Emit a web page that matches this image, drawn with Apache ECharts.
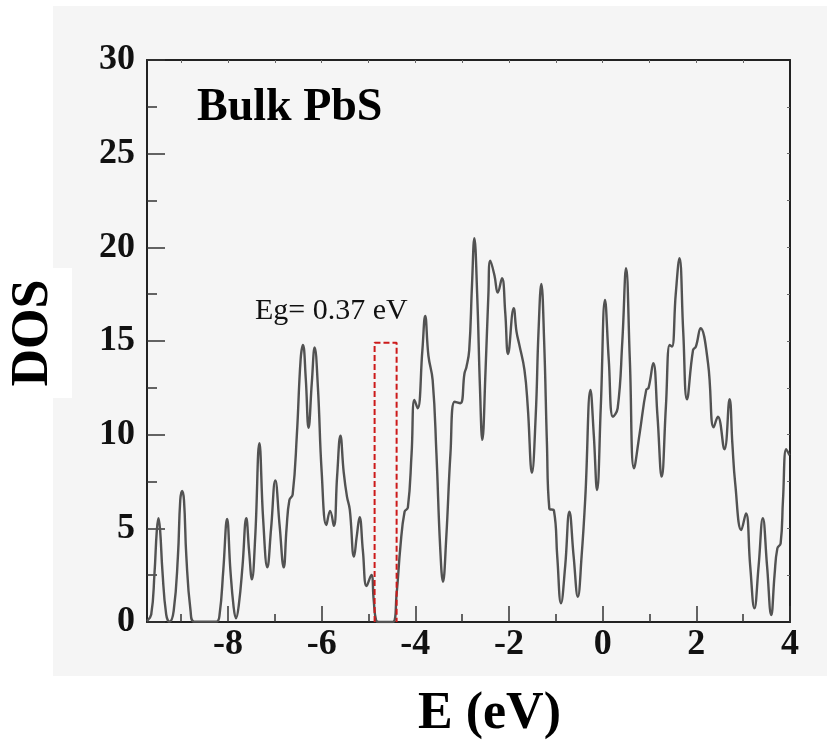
<!DOCTYPE html>
<html>
<head>
<meta charset="utf-8">
<script src="https://cdn.jsdelivr.net/npm/echarts@6/dist/echarts.min.js"></script>
<style>html,body{margin:0;padding:0;background:#fff;}#c{width:827px;height:754px;}</style>
</head>
<body>
<div id="c"></div>
<script>
// Energy (eV) and density of states
const energy = [-9.73,-9.64,-9.57,-9.52,-9.485,-9.45,-9.40,-9.32,-9.25,-9.16,-9.07,-9.02,-8.98,-8.94,-8.89,-8.80,-8.72,-8.25,-8.18,-8.10,-8.02,-7.95,-7.88,-7.83,-7.77,-7.69,-7.61,-7.55,-7.49,-7.42,-7.33,-7.25,-7.16,-7.08,-6.99,-6.90,-6.81,-6.75,-6.69,-6.62,-6.53,-6.45,-6.40,-6.34,-6.28,-6.21,-6.15,-6.08,-6.00,-5.90,-5.82,-5.74,-5.67,-5.60,-5.53,-5.46,-5.40,-5.31,-5.25,-5.19,-5.12,-5.04,-4.94,-4.89,-4.84,-4.78,-4.48,-4.40,-4.32,-4.23,-4.16,-4.08,-4.02,-3.95,-3.85,-3.79,-3.72,-3.63,-3.55,-3.47,-3.41,-3.34,-3.25,-3.16,-3.04,-2.95,-2.91,-2.85,-2.79,-2.74,-2.68,-2.62,-2.57,-2.50,-2.44,-2.40,-2.31,-2.24,-2.15,-2.08,-2.02,-1.90,-1.84,-1.78,-1.67,-1.60,-1.51,-1.43,-1.37,-1.31,-1.25,-1.19,-1.14,-1.04,-0.97,-0.89,-0.80,-0.71,-0.62,-0.53,-0.45,-0.37,-0.26,-0.19,-0.12,-0.04,0.05,0.13,0.22,0.32,0.42,0.50,0.58,0.67,0.79,0.93,0.98,1.08,1.17,1.26,1.35,1.43,1.48,1.56,1.64,1.72,1.80,1.93,1.99,2.09,2.25,2.37,2.46,2.60,2.71,2.77,2.83,2.96,3.06,3.15,3.24,3.33,3.42,3.51,3.60,3.67,3.73,3.80,3.85,3.92,3.99];
const dos = [0.05,0.4,2.6,4.9,5.54,4.9,2.7,0.4,0.02,0.6,3.5,6.5,7.0,6.5,3.5,0.6,0.02,0.02,0.4,2.8,5.5,2.8,0.8,0.2,0.9,3.0,5.54,3.8,2.28,4.5,9.54,5.5,2.92,5.0,7.55,5.2,2.92,5.0,6.5,6.8,10.0,14.0,14.79,13.0,10.37,12.8,14.66,12.5,8.0,5.18,5.93,5.13,7.8,9.95,8.0,6.69,6.0,3.49,4.6,5.59,3.8,1.92,2.51,1.2,0.1,0.0,0.0,1.5,4.0,5.89,6.1,9.0,11.85,11.41,14.5,16.34,14.2,12.9,9.0,4.0,2.15,4.5,9.0,11.76,11.68,13.28,13.6,14.5,18.0,20.49,17.5,12.5,9.72,13.5,17.5,19.29,18.5,17.58,18.35,16.5,14.31,16.75,15.5,14.8,13.45,11.5,7.97,11.0,15.5,18.05,15.0,9.5,6.07,5.94,3.5,1.0,3.0,5.89,3.5,1.35,3.5,6.69,12.39,10.0,7.05,11.5,17.19,14.0,10.96,11.41,15.0,18.88,14.0,8.2,10.07,12.39,12.5,13.81,11.0,7.76,11.5,14.79,14.7,17.5,19.42,15.5,11.89,14.52,14.7,15.68,13.81,10.39,10.96,9.22,11.89,9.5,7.4,4.91,5.8,3.0,0.73,3.0,5.54,3.0,0.37,2.5,3.93,4.2,6.5,9.22,8.9];
// band gap marker (dashed box)
const gapBoxE = [-4.87,-4.87,-4.40,-4.40];
const gapBoxDos = [0,14.9,14.9,0];
const xMajorTicks = [-8,-6,-4,-2,0,2,4];
const xMinorTicks = [-9,-7,-5,-3,-1,1,3];
const xTopTicks = [-9,-8,-7,-6,-5,-4,-3,-2,-1,0,1,2,3];
const yRightTicks = [2.5,5,7.5,10,12.5,15,17.5,20,22.5,25,27.5];
const titleText = 'Bulk PbS';
const gapText = 'Eg= 0.37 eV';
const xTitle = 'E (eV)';
const yTitle = 'DOS';

const chart = echarts.init(document.getElementById('c'), null, {renderer:'canvas'});
const serif = '"Liberation Serif","Times New Roman",serif';
const X0 = -9.73, X1 = 4;
const lineData = energy.map((e,i)=>[e,dos[i]]);
const boxData = gapBoxE.map((e,i)=>[e,gapBoxDos[i]]);
const G = {left:147, right:37, top:60, bottom:132, show:false};

chart.setOption({
  backgroundColor:'#ffffff',
  animation:false,
  graphic:[
    {type:'rect', z:-10, shape:{x:53,y:6,width:774,height:670}, style:{fill:'#f5f5f5'}},
    {type:'rect', z:-9, shape:{x:0,y:268,width:72,height:130}, style:{fill:'#ffffff'}},
    {type:'rect', z:-9, shape:{x:406,y:676,width:173,height:78}, style:{fill:'#ffffff'}},
    {type:'text', left:197, top:85, style:{text:titleText, font:'bold 46px '+serif, fill:'#000'}},
    {type:'text', left:255, top:296, style:{text:gapText, font:'30px '+serif, fill:'#111'}}
  ],
  grid:[G, Object.assign({}, G)],
  xAxis:[
    {type:'value', gridIndex:0, min:X0, max:X1, position:'bottom',
     name:xTitle, nameLocation:'middle', nameGap:67,
     nameTextStyle:{fontFamily:serif, fontWeight:'bold', fontSize:52, color:'#000', padding:[0,0,0,42]},
     axisLine:{show:true, onZero:false, lineStyle:{color:'#222', width:2}},
     axisTick:{show:true, inside:true, length:16, customValues:xMajorTicks, lineStyle:{color:'#333', width:1.5}},
     axisLabel:{show:true, customValues:xMajorTicks, margin:5, fontFamily:serif, fontWeight:'bold', fontSize:36, color:'#111'},
     splitLine:{show:false}},
    {type:'value', gridIndex:0, min:X0, max:X1, position:'top',
     axisLine:{show:true, onZero:false, lineStyle:{color:'#222', width:2}},
     axisTick:{show:true, inside:true, length:3, customValues:xTopTicks, lineStyle:{color:'#666', width:1}},
     axisLabel:{show:false}, splitLine:{show:false}},
    {type:'value', gridIndex:1, min:X0, max:X1, position:'bottom',
     axisLine:{show:false, onZero:false},
     axisTick:{show:true, inside:true, length:8, customValues:xMinorTicks, lineStyle:{color:'#333', width:1.5}},
     axisLabel:{show:false}, splitLine:{show:false}}
  ],
  yAxis:[
    {type:'value', gridIndex:0, min:0, max:30, interval:5, position:'left',
     name:yTitle, nameLocation:'middle', nameGap:87, nameRotate:90,
     nameTextStyle:{fontFamily:serif, fontWeight:'bold', fontSize:52, color:'#000', padding:[0,0,0,16]},
     axisLine:{show:true, onZero:false, lineStyle:{color:'#222', width:2}},
     axisTick:{show:true, inside:true, length:18, lineStyle:{color:'#333', width:1.5}},
     minorTick:{show:true, splitNumber:2, length:10, lineStyle:{color:'#333', width:1.5}},
     axisLabel:{margin:12, fontFamily:serif, fontWeight:'bold', fontSize:36, color:'#111'},
     splitLine:{show:false}},
    {type:'value', gridIndex:0, min:0, max:30, position:'right',
     axisLine:{show:true, onZero:false, lineStyle:{color:'#222', width:2}},
     axisTick:{show:true, inside:true, length:3, customValues:yRightTicks, lineStyle:{color:'#666', width:1}},
     axisLabel:{show:false}, splitLine:{show:false}},
    {type:'value', gridIndex:1, min:0, max:30, show:false}
  ],
  series:[
    {type:'line', xAxisIndex:0, yAxisIndex:0, data:lineData, smooth:0.45, showSymbol:false,
     lineStyle:{color:'#525252', width:2.4}, z:3},
    {type:'line', xAxisIndex:0, yAxisIndex:0, data:boxData, smooth:false, showSymbol:false,
     lineStyle:{color:'#cc1a1a', width:2, type:[6,3]}, z:4}
  ]
});
</script>
</body>
</html>
